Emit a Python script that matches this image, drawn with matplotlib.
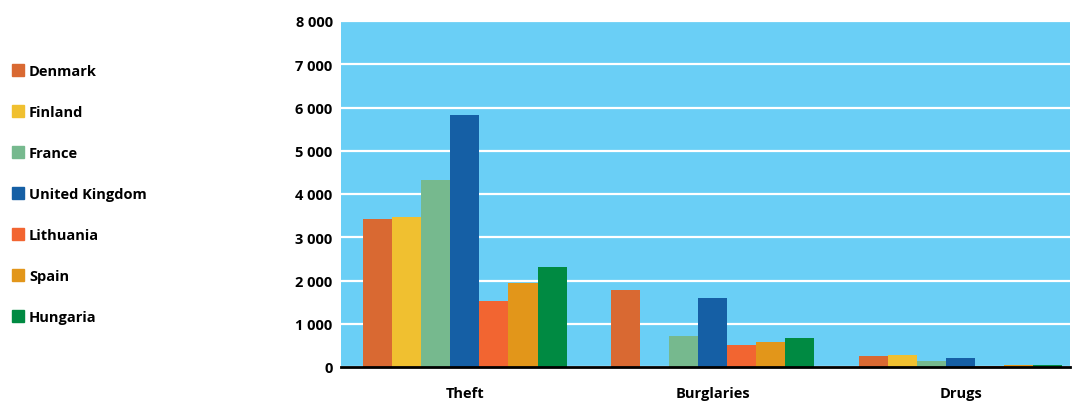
import matplotlib.pyplot as plt
import matplotlib.patches as mpatches
import numpy as np

plt.rcParams['font.family'] = ['Open Sans', 'DejaVu Sans']

# data
categories = ['Theft', 'Burglaries', 'Drugs']
countries = ['Denmark', 'Finland', 'France', 'United Kingdom', 'Lithuania', 'Spain', 'Hungaria']
values = {
    'Denmark':        [3420, 1780, 245],
    'Finland':        [3470, 0, 280],
    'France':         [4320, 720, 145],
    'United Kingdom': [5830, 1600, 200],
    'Lithuania':      [1530, 510, 20],
    'Spain':          [1940, 580, 40],
    'Hungaria':       [2310, 670, 40],
}
colors = ['#D96932', '#F0C030', '#76B98E', '#155FA5', '#F26531', '#E2961A', '#008A42']
yticks = [0, 1000, 2000, 3000, 4000, 5000, 6000, 7000, 8000]

fig = plt.figure(figsize=(10.72, 4.06), dpi=100)
ax = fig.add_axes([341 / 1072, 38 / 406, 729 / 1072, 346 / 406])
ax.set_facecolor('#6ACFF6')

x = np.arange(len(categories))
w = 0.117
for i, c in enumerate(countries):
    ax.bar(x + (i - 3) * w, values[c], width=w, color=colors[i], zorder=3)

ax.set_ylim(0, 8000)
ax.set_xlim(-0.5, 2.44)
ax.set_yticks(yticks)
ax.set_yticklabels([f'{v:,}'.replace(',', ' ') for v in yticks], fontsize=10.5, fontweight='bold')
ax.set_xticks(x)
ax.set_xticklabels(categories, fontsize=10.5, fontweight='bold')
ax.tick_params(length=0)
ax.tick_params(axis='y', pad=6)
ax.tick_params(axis='x', pad=14)
ax.yaxis.grid(True, color='white', linewidth=1.6, zorder=1)
ax.set_axisbelow(True)
for s in ['top', 'right', 'left']:
    ax.spines[s].set_visible(False)
ax.spines['bottom'].set_color('black')
ax.spines['bottom'].set_linewidth(2)
ax.spines['bottom'].set_zorder(4)

handles = [mpatches.Patch(color=colors[i], label=c) for i, c in enumerate(countries)]
fig.legend(handles=handles, loc='upper left', bbox_to_anchor=(-1 / 1072, 1 - 52 / 406),
           frameon=False, handlelength=0.8, handleheight=0.8, handletextpad=0.35,
           labelspacing=1.85, prop={'weight': 'bold', 'size': 10.5})

fig.savefig('out.png', dpi=100)
